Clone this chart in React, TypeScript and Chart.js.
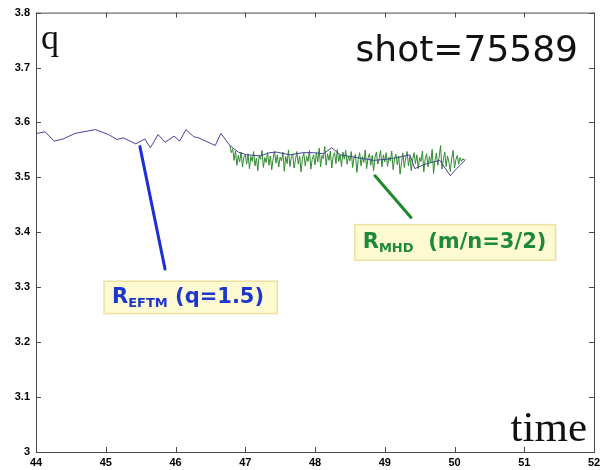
import React, { useEffect, useRef } from "react";
import { Chart, registerables } from "chart.js";

Chart.register(...registerables);

// ---- data ----
const xTickValues = [44, 45, 46, 47, 48, 49, 50, 51, 52];
const yTickValues = [3, 3.1, 3.2, 3.3, 3.4, 3.5, 3.6, 3.7, 3.8];

// R_EFTM (q = 1.5) radius, blue trace
const blueTimes = [
  44.01, 44.13, 44.26, 44.39, 44.56, 44.85, 45.04, 45.16, 45.25, 45.43, 45.56,
  45.64, 45.75, 45.85, 45.98, 46.06, 46.15, 46.26, 46.33, 46.45, 46.57, 46.65,
  46.78, 46.9, 47.02, 47.21, 47.35, 47.45, 47.64, 47.83, 47.98, 48.12, 48.24,
  48.36, 48.84, 49.03, 49.22, 49.36, 49.43, 49.6, 49.79, 49.94, 50.03, 50.15,
];
const blueQ = [
  3.58, 3.583, 3.566, 3.57, 3.58, 3.587, 3.578, 3.569, 3.572, 3.561, 3.57,
  3.554, 3.578, 3.564, 3.575, 3.566, 3.587, 3.574, 3.572, 3.565, 3.558, 3.58,
  3.558, 3.546, 3.541, 3.539, 3.545, 3.546, 3.541, 3.545, 3.545, 3.543, 3.554,
  3.541, 3.531, 3.533, 3.537, 3.541, 3.516, 3.525, 3.531, 3.503, 3.516, 3.531,
];

// R_MHD (m/n = 3/2), green trace, uniformly sampled between start and end
const greenStart = 46.78;
const greenEnd = 50.16;
const greenQ = [
  3.558, 3.545, 3.552, 3.531, 3.548, 3.522, 3.54, 3.528, 3.546, 3.519, 3.537, 3.541,
  3.524, 3.543, 3.516, 3.538, 3.529, 3.547, 3.521, 3.535, 3.512, 3.54, 3.533, 3.549,
  3.518, 3.536, 3.527, 3.545, 3.522, 3.539, 3.514, 3.534, 3.548, 3.526, 3.541, 3.519,
  3.537, 3.53, 3.546, 3.511, 3.538, 3.525, 3.55, 3.52, 3.536, 3.543, 3.517, 3.532,
  3.547, 3.524, 3.539, 3.51, 3.535, 3.544, 3.521, 3.538, 3.529, 3.549, 3.515, 3.533,
  3.541, 3.523, 3.545, 3.528, 3.553, 3.519, 3.54, 3.534, 3.556, 3.522, 3.543, 3.531,
  3.548, 3.517, 3.538, 3.545, 3.525, 3.551, 3.529, 3.541, 3.52, 3.546, 3.533, 3.549,
  3.524, 3.539, 3.53, 3.547, 3.518, 3.536, 3.542, 3.509, 3.533, 3.545, 3.521, 3.538,
  3.527, 3.55, 3.516, 3.535, 3.543, 3.522, 3.54, 3.512, 3.537, 3.546, 3.524, 3.534,
  3.549, 3.519, 3.541, 3.528, 3.545, 3.52, 3.537, 3.53, 3.548, 3.514, 3.534, 3.542,
  3.523, 3.539, 3.506, 3.527, 3.544, 3.518, 3.535, 3.547, 3.521, 3.538, 3.512, 3.532,
  3.545, 3.525, 3.541, 3.516, 3.536, 3.529, 3.548, 3.51, 3.534, 3.543, 3.519, 3.538,
  3.526, 3.551, 3.507, 3.531, 3.544, 3.522, 3.537, 3.558, 3.515, 3.533, 3.546, 3.52,
  3.539, 3.528, 3.511, 3.535, 3.549, 3.517, 3.532, 3.54, 3.524, 3.536, 3.529, 3.534,
  3.531, 3.533,
];

// annotation anchors (data units)
const bluePointer = [[45.49, 3.556], [45.85, 3.333]];
const blueBox = { x0: 44.975, x1: 47.46, y0: 3.311, y1: 3.252 };
const greenPointer = [[48.86, 3.503], [49.376, 3.427]];
const greenBox = { x0: 48.57, x1: 51.45, y0: 3.414, y1: 3.349 };

const BLUE_LINE = "#44449a";
const GREEN_LINE = "#2f8a2f";

function drawLabel(
  ctx: CanvasRenderingContext2D,
  x: number,
  y: number,
  main: string,
  sub: string,
  rest: string,
  color: string
) {
  ctx.fillStyle = color;
  ctx.textBaseline = "alphabetic";
  ctx.textAlign = "left";
  ctx.font = "bold 21px 'DejaVu Sans'";
  ctx.fillText(main, x, y);
  let cx = x + ctx.measureText(main).width;
  ctx.font = "bold 13px 'DejaVu Sans'";
  ctx.fillText(sub, cx, y + 4);
  cx += ctx.measureText(sub).width;
  ctx.font = "bold 21px 'DejaVu Sans'";
  ctx.fillText(rest, cx, y);
}

const framePlugin = {
  id: "frameTicks",
  afterDraw(chart: any) {
    const { ctx, chartArea, scales } = chart;
    const { left, right, top, bottom } = chartArea;
    ctx.save();
    ctx.strokeStyle = "#4a4a4a";
    ctx.lineWidth = 1;
    ctx.strokeRect(left + 0.5, top + 0.5, right - left, bottom - top);
    const tl = 5;
    ctx.beginPath();
    scales.x.ticks.forEach((t: any) => {
      const px = Math.round(scales.x.getPixelForValue(t.value)) + 0.5;
      ctx.moveTo(px, bottom);
      ctx.lineTo(px, bottom - tl);
      ctx.moveTo(px, top);
      ctx.lineTo(px, top + tl);
    });
    scales.y.ticks.forEach((t: any) => {
      const py = Math.round(scales.y.getPixelForValue(t.value)) + 0.5;
      ctx.moveTo(left, py);
      ctx.lineTo(left + tl, py);
      ctx.moveTo(right, py);
      ctx.lineTo(right - tl, py);
    });
    ctx.stroke();
    ctx.restore();
  },
};

const annotationPlugin = {
  id: "annots",
  afterDraw(chart: any) {
    const { ctx, scales, chartArea } = chart;
    const X = (v: number) => scales.x.getPixelForValue(v);
    const Y = (v: number) => scales.y.getPixelForValue(v);
    ctx.save();

    // text labels
    ctx.fillStyle = "#111";
    ctx.textBaseline = "alphabetic";
    ctx.font = "36px 'Liberation Serif'";
    ctx.textAlign = "left";
    ctx.fillText("q", chartArea.left + 5, chartArea.top + 36);
    ctx.font = "36px 'DejaVu Sans'";
    ctx.textAlign = "right";
    ctx.fillText("shot=75589", chartArea.right - 16, chartArea.top + 48);
    ctx.font = "43px 'Liberation Serif'";
    ctx.textAlign = "right";
    ctx.fillText("time", chartArea.right - 7, chartArea.bottom - 11);

    // pointers
    ctx.lineCap = "round";
    ctx.lineWidth = 3;
    ctx.strokeStyle = "#1c2fd6";
    ctx.beginPath();
    ctx.moveTo(X(bluePointer[0][0]), Y(bluePointer[0][1]));
    ctx.lineTo(X(bluePointer[1][0]), Y(bluePointer[1][1]));
    ctx.stroke();
    ctx.strokeStyle = "#1c8a2c";
    ctx.beginPath();
    ctx.moveTo(X(greenPointer[0][0]), Y(greenPointer[0][1]));
    ctx.lineTo(X(greenPointer[1][0]), Y(greenPointer[1][1]));
    ctx.stroke();

    // boxes
    const boxes = [
      { b: blueBox, color: "#1f35d0", main: "R", sub: "EFTM", rest: " (q=1.5)" },
      { b: greenBox, color: "#1c8a3a", main: "R", sub: "MHD", rest: "  (m/n=3/2)" },
    ];
    boxes.forEach(({ b, color, main, sub, rest }) => {
      const x0 = X(b.x0), x1 = X(b.x1), y0 = Y(b.y0), y1 = Y(b.y1);
      ctx.fillStyle = "#fdfad2";
      ctx.fillRect(x0, y0, x1 - x0, y1 - y0);
      ctx.strokeStyle = "#eee2a2";
      ctx.lineWidth = 1.5;
      ctx.strokeRect(x0, y0, x1 - x0, y1 - y0);
      drawLabel(ctx, x0 + 8, (y0 + y1) / 2 + 6, main, sub, rest, color);
    });
    ctx.restore();
  },
};

export default function App() {
  const ref = useRef<HTMLCanvasElement | null>(null);

  useEffect(() => {
    document.body.style.margin = "0";
    const canvas = ref.current;
    if (!canvas) return;

    const n = greenQ.length;
    const greenData = greenQ.map((q, i) => ({
      x: greenStart + ((greenEnd - greenStart) * i) / (n - 1),
      y: q,
    }));
    const blueData = blueTimes.map((t, i) => ({ x: t, y: blueQ[i] }));

    const chart = new Chart(canvas, {
      type: "line",
      data: {
        datasets: [
          {
            label: "R_EFTM",
            data: blueData,
            borderColor: BLUE_LINE,
            borderWidth: 1,
            pointRadius: 0,
            tension: 0,
            fill: false,
          },
          {
            label: "R_MHD",
            data: greenData,
            borderColor: GREEN_LINE,
            borderWidth: 1,
            pointRadius: 0,
            tension: 0,
            fill: false,
          },
        ],
      },
      options: {
        responsive: false,
        animation: false,
        parsing: true,
        layout: { padding: { top: 10, right: 12, left: 0, bottom: 0 } },
        plugins: { legend: { display: false }, tooltip: { enabled: false } },
        scales: {
          x: {
            type: "linear",
            min: xTickValues[0],
            max: xTickValues[xTickValues.length - 1],
            afterBuildTicks: (s: any) => {
              s.ticks = xTickValues.map((v) => ({ value: v }));
            },
            afterFit: (s: any) => {
              s.height = 18;
            },
            grid: { display: false, drawTicks: false },
            border: { display: false },
            ticks: {
              padding: 4,
              color: "#000",
              font: { family: "'Liberation Sans'", size: 11, weight: "bold" },
              callback: (v: any) => String(v),
              maxRotation: 0,
            },
          },
          y: {
            type: "linear",
            min: yTickValues[0],
            max: yTickValues[yTickValues.length - 1],
            afterBuildTicks: (s: any) => {
              s.ticks = yTickValues.map((v) => ({ value: v }));
            },
            afterFit: (s: any) => {
              s.width = 36;
            },
            grid: { display: false, drawTicks: false },
            border: { display: false },
            ticks: {
              padding: 6,
              color: "#000",
              font: { family: "'Liberation Sans'", size: 11, weight: "bold" },
              callback: (v: any) => String(Number(Number(v).toFixed(1))),
            },
          },
        },
      },
      plugins: [framePlugin, annotationPlugin],
    });

    return () => chart.destroy();
  }, []);

  return (
    <div style={{ width: 606, height: 470, background: "#fff" }}>
      <canvas ref={ref} width={606} height={470} />
    </div>
  );
}
